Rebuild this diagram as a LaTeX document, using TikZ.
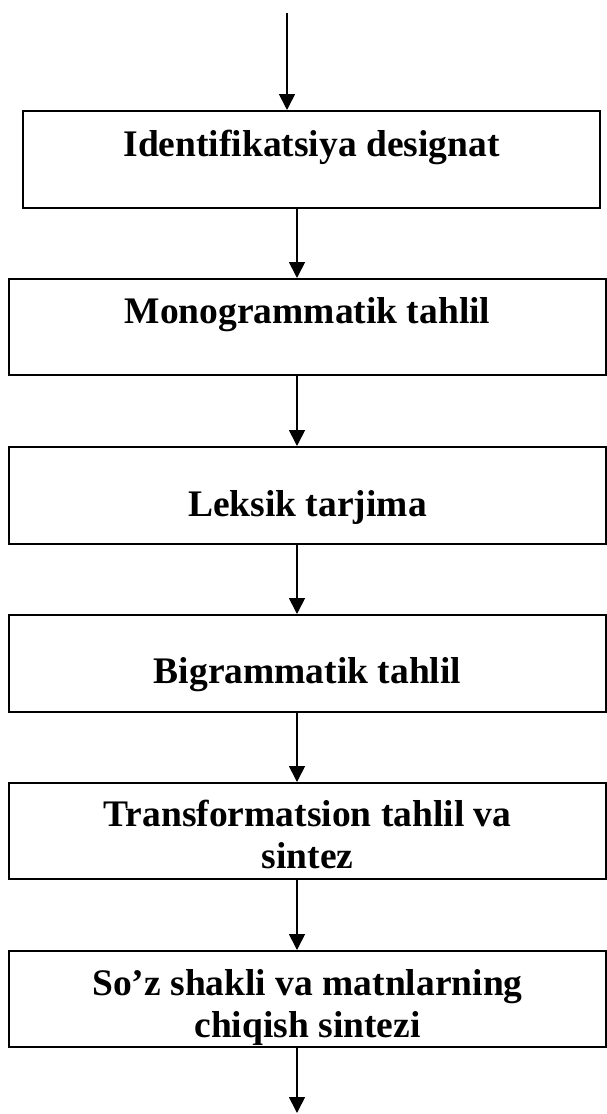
\documentclass[tikz,border=0pt]{standalone}
\usepackage{fontspec}
\setmainfont{Liberation Serif}
\usepackage{tikz}
\usetikzlibrary{arrows.meta}

\begin{document}
\begin{tikzpicture}[x=1pt, y=-1pt, line width=1.7pt,
	stage/.style={draw=black, rectangle, inner sep=0pt, anchor=north, align=center,
		minimum width=597pt, font=\fontsize{37.5}{42.5}\selectfont\bfseries},
	flow/.style={-{Triangle[width=16pt,length=16pt]}}]
	\useasboundingbox (0,0) rectangle (606,1114);

	\node[stage, minimum width=577pt, text height=46pt, text depth=51pt] (ident) at (311.5,110) {Identifikatsiya designat};
	\node[stage, text height=45pt, text depth=51pt] (mono) at (307.5,278) {Monogrammatik tahlil};
	\node[stage, text height=70pt, text depth=27pt] (leks) at (307.5,446) {Leksik tarjima};
	\node[stage, text height=69pt, text depth=28pt] (bigr) at (307.5,614) {Bigrammatik tahlil};
	\node[stage, text height=86pt, text depth=10pt] (trans) at (307.5,782) {Transformatsion tahlil va\\sintez};
	\node[stage, text height=87pt, text depth=9pt] (sint) at (307.5,950) {So’z shakli va matnlarning\\chiqish sintezi};

	\coordinate (start) at (287,13);
	\coordinate (axis) at (297,0);
	\coordinate (stop) at (297,1113);

	\draw[flow] (start) -- (start |- ident.north);
	\draw[flow] (axis |- ident.south) -- (axis |- mono.north);
	\draw[flow] (axis |- mono.south) -- (axis |- leks.north);
	\draw[flow] (axis |- leks.south) -- (axis |- bigr.north);
	\draw[flow] (axis |- bigr.south) -- (axis |- trans.north);
	\draw[flow] (axis |- trans.south) -- (axis |- sint.north);
	\draw[flow] (axis |- sint.south) -- (stop);
\end{tikzpicture}
\end{document}
